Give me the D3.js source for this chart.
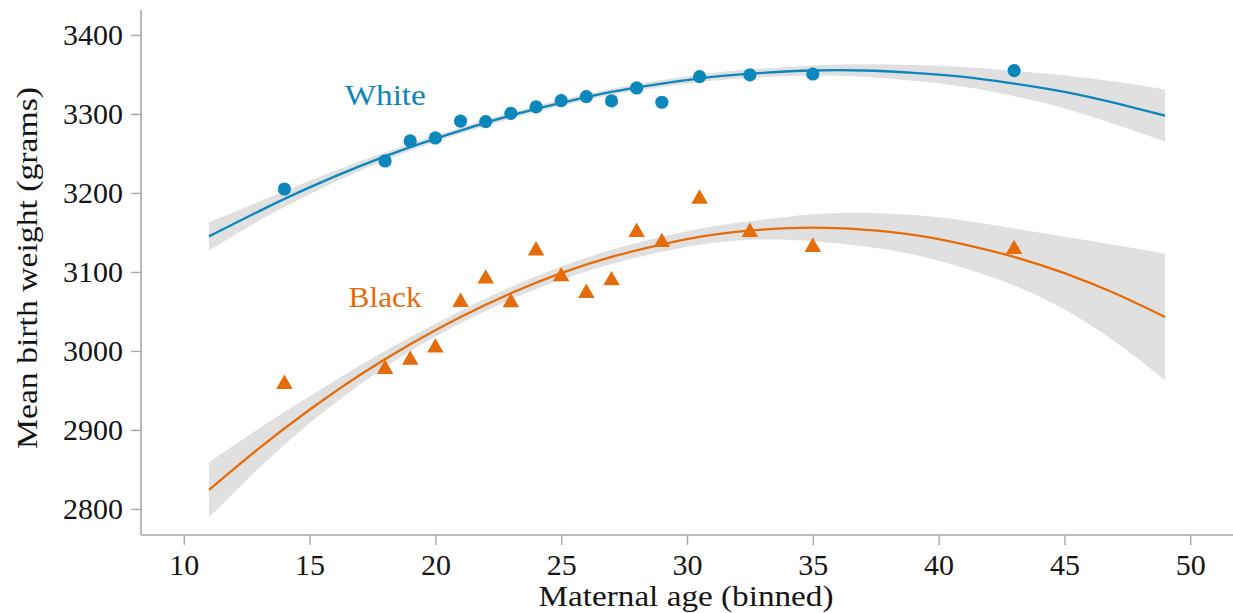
<!DOCTYPE html>
<html>
<head>
<meta charset="utf-8">
<script src="https://cdn.jsdelivr.net/npm/d3@7"></script>
<style>
  html, body { margin: 0; padding: 0; background: #fff; }
  svg { display: block; }
  text { font-family: "Liberation Serif", "Tinos", "DejaVu Serif", serif; }
</style>
</head>
<body>
<svg id="chart" width="1233" height="613"></svg>
<script>
// Binned maternal age and mean birth weight per group
const ages = [14, 18, 19, 20, 21, 22, 23, 24, 25, 26, 27, 28, 29, 30.5, 32.5, 35, 43];
const whiteMean = [3205, 3240.5, 3265.8, 3269.6, 3291, 3290.3, 3300.8, 3308.9, 3316.8, 3322, 3316.5, 3332.9, 3314.8, 3347.2, 3349.4, 3350.6, 3354.9];
const blackMean = [2958, 2977, 2988.5, 3004, 3061.8, 3091.3, 3061.4, 3127, 3094.2, 3073.2, 3089.2, 3150.4, 3137.7, 3192.5, 3150.4, 3131.4, 3128.7];

// Quadratic fits with confidence bands, sampled along age
const fitAges = [11, 13, 15, 17, 19, 21, 23, 25, 27, 29, 31, 33, 35, 37, 39, 41, 43, 45, 47, 49];
const whiteFit = [3145, 3177, 3207, 3234, 3258, 3279, 3298, 3314, 3328, 3338.5, 3347, 3352, 3355, 3355, 3352, 3347, 3338.5, 3328, 3314, 3298];
const whiteLow = [3127, 3165, 3198.5, 3228, 3253.5, 3275, 3294, 3310, 3324, 3334, 3342, 3346.5, 3348.5, 3347, 3342, 3334.5, 3322.5, 3307, 3287, 3265];
const whiteHigh = [3163, 3189, 3215.5, 3240, 3262.5, 3283, 3302, 3318, 3332, 3343, 3352, 3357.5, 3361.5, 3363, 3362, 3359.5, 3354.5, 3349, 3341, 3331];
const blackFit = [2824, 2877, 2925.5, 2969.5, 3008.5, 3043, 3073, 3098.5, 3119, 3135, 3147, 3153.5, 3156, 3153.5, 3147, 3135, 3119, 3098.5, 3073, 3043];
const blackLow = [2789, 2852, 2908.5, 2957.5, 2999.5, 3035, 3065, 3090, 3110, 3125.5, 3136.5, 3141, 3139, 3132.5, 3122, 3105, 3083, 3052.5, 3012, 2963];
const blackHigh = [2859, 2902, 2942.5, 2981.5, 3017.5, 3051, 3081, 3107, 3128, 3144.5, 3157.5, 3166, 3173, 3174.5, 3172, 3165, 3155, 3144.5, 3134, 3123];

const xTicks = [10, 15, 20, 25, 30, 35, 40, 45, 50];
const yTicks = [2800, 2900, 3000, 3100, 3200, 3300, 3400];

const BLUE = "#0b87bb";
const ORANGE = "#e46c0a";
const BAND = "#e0e0e0";
const AXIS = "#a8a8a8";
const FONT = "'Liberation Serif', 'Tinos', 'DejaVu Serif', serif";

const svg = d3.select("#chart");

const x = d3.scaleLinear().domain([8.3, 51.7]).range([141, 1233]);
const y = d3.scaleLinear().domain([2767, 3431.6]).range([535, 10]);

const area = d3.area()
  .x(d => x(d.a)).y0(d => y(d.lo)).y1(d => y(d.hi))
  .curve(d3.curveNatural);
const line = d3.line()
  .x(d => x(d.a)).y(d => y(d.v))
  .curve(d3.curveNatural);

const groups = [
  { name: "White", color: BLUE, means: whiteMean, fit: whiteFit, lo: whiteLow, hi: whiteHigh },
  { name: "Black", color: ORANGE, means: blackMean, fit: blackFit, lo: blackLow, hi: blackHigh }
];

// Confidence bands, then fitted curves
groups.forEach(g => {
  const bandData = fitAges.map((a, i) => ({ a, lo: g.lo[i], hi: g.hi[i] }));
  svg.append("path").attr("d", area(bandData)).attr("fill", BAND);
});
groups.forEach(g => {
  const fitData = fitAges.map((a, i) => ({ a, v: g.fit[i] }));
  svg.append("path").attr("d", line(fitData))
    .attr("fill", "none").attr("stroke", g.color).attr("stroke-width", 2.3);
});

// Axes
const yAxis = svg.append("g")
  .attr("transform", `translate(${x.range()[0]},0)`)
  .call(d3.axisLeft(y).tickValues(yTicks).tickFormat(d3.format("d")).tickSize(10).tickPadding(8));
const xAxis = svg.append("g")
  .attr("transform", `translate(0,${y.range()[0]})`)
  .call(d3.axisBottom(x).tickValues(xTicks).tickFormat(d3.format("d")).tickSize(10).tickPadding(8));

[xAxis, yAxis].forEach(ax => {
  ax.select(".domain").attr("stroke", AXIS).attr("stroke-width", 1.6);
  ax.selectAll(".tick line").attr("stroke", AXIS).attr("stroke-width", 1.4);
  ax.selectAll(".tick text").attr("fill", "#151515")
    .style("font-family", FONT).style("font-size", "30px");
});
// Plain axis lines without end caps
yAxis.select(".domain").attr("d", `M0,${y.range()[1]}V${y.range()[0]}`);
xAxis.select(".domain").attr("d", `M${x.range()[0]},0H${x.range()[1]}`);
xAxis.selectAll(".tick text").attr("dy", "0.72em");
yAxis.selectAll(".tick text").attr("dy", "0.33em");

// Points
const whitePts = ages.map((a, i) => ({ a, v: whiteMean[i] }));
const blackPts = ages.map((a, i) => ({ a, v: blackMean[i] }));

svg.append("g").selectAll("circle").data(whitePts).join("circle")
  .attr("cx", d => x(d.a)).attr("cy", d => y(d.v)).attr("r", 6.6)
  .attr("fill", BLUE);

const tri = d3.symbol().type(d3.symbolTriangle).size(118);
svg.append("g").selectAll("path").data(blackPts).join("path")
  .attr("transform", d => `translate(${x(d.a)},${y(d.v)})`)
  .attr("d", tri).attr("fill", ORANGE);

// Group labels
svg.append("text").attr("x", x(16.4)).attr("y", y(3311.4))
  .attr("fill", BLUE).style("font-family", FONT).style("font-size", "30px")
  .attr("textLength", 81).attr("lengthAdjust", "spacingAndGlyphs")
  .text("White");
svg.append("text").attr("x", x(16.55)).attr("y", y(3055.3))
  .attr("fill", ORANGE).style("font-family", FONT).style("font-size", "30px")
  .attr("textLength", 73).attr("lengthAdjust", "spacingAndGlyphs")
  .text("Black");

// Axis titles
svg.append("text")
  .attr("x", 686).attr("y", 606)
  .attr("text-anchor", "middle").attr("fill", "#151515")
  .style("font-family", FONT).style("font-size", "30px")
  .attr("textLength", 295).attr("lengthAdjust", "spacingAndGlyphs")
  .text("Maternal age (binned)");
svg.append("text")
  .attr("transform", "translate(37,268) rotate(-90)")
  .attr("text-anchor", "middle").attr("fill", "#151515")
  .style("font-family", FONT).style("font-size", "30px")
  .attr("textLength", 362).attr("lengthAdjust", "spacingAndGlyphs")
  .text("Mean birth weight (grams)");
</script>
</body>
</html>
